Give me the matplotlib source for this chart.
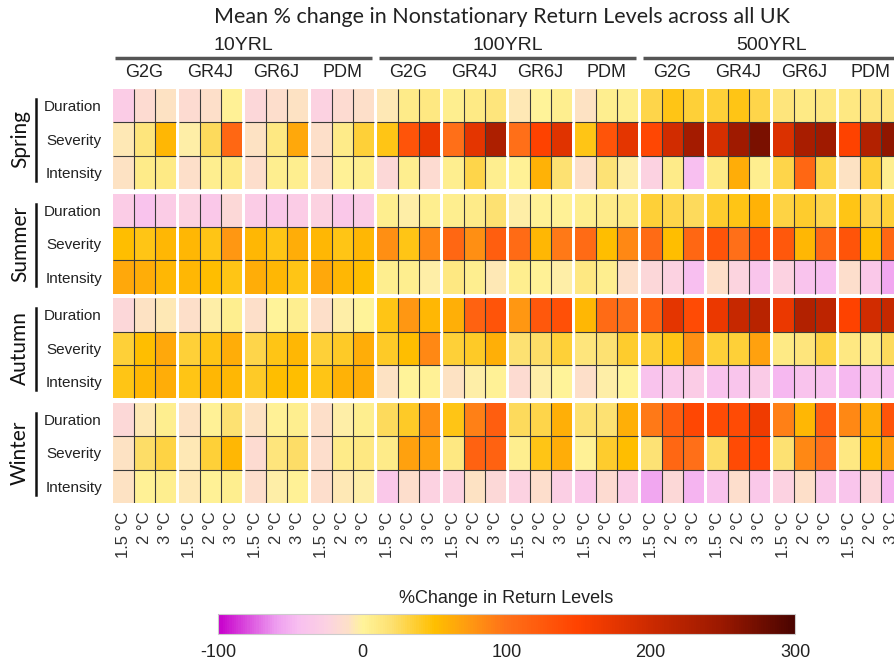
import numpy as np
import matplotlib
matplotlib.use("Agg")
import matplotlib.pyplot as plt
from matplotlib.colors import LinearSegmentedColormap, Normalize
from matplotlib.transforms import blended_transform_factory

plt.rcParams["axes.unicode_minus"] = False

# data (mean % change), rows = season x metric, cols = RL x model x warming
seasons = ["Spring", "Summer", "Autumn", "Winter"]
metrics = ["Duration", "Severity", "Intensity"]
return_levels = ["10YRL", "100YRL", "500YRL"]
models = ["G2G", "GR4J", "GR6J", "PDM"]
warming = ["1.5 °C", "2 °C", "3 °C"]

rl10 = [
    [-30, -15, -8, -15, -10, 3, -20, -12, -8, -25, -15, -10],
    [-5, 15, 55, -3, 25, 110, -8, 12, 65, -10, 8, 35],
    [-8, 8, 10, -10, 5, 10, -12, 5, 5, -12, 3, 5],
    [-30, -40, -30, -25, -35, -18, -30, -35, -30, -25, -35, -30],
    [50, 45, 55, 55, 45, 75, 55, 45, 62, 55, 45, 55],
    [65, 62, 55, 55, 50, 45, 62, 55, 45, 65, 55, 50],
    [-20, -8, -5, -10, -3, 5, -10, 0, 5, -10, -3, 0],
    [35, 50, 65, 35, 45, 62, 30, 45, 55, 35, 40, 62],
    [45, 55, 62, 45, 55, 55, 40, 50, 50, 45, 58, 62],
    [-18, -5, 5, -8, 3, 20, -8, 2, 5, -10, -3, 5],
    [-8, 22, 32, -5, 35, 55, -15, 15, 22, -12, 8, 12],
    [-8, 3, 5, -5, 3, 5, -12, -2, 2, -12, -5, -2],
]
rl100 = [
    [-5, 8, 12, 5, 10, 15, -5, 0, 5, -8, 5, 5],
    [45, 130, 170, 100, 175, 230, 100, 150, 180, 45, 130, 175],
    [-18, 5, -15, 5, 30, 5, 3, 58, 20, -10, 18, -3],
    [5, -3, 5, 5, 8, 20, -3, 3, 3, 5, 8, 10],
    [80, 45, 85, 110, 80, 120, 105, 55, 95, 105, 50, 85],
    [5, 5, -3, 12, 5, -5, 5, 3, -3, 12, 5, -10],
    [45, 75, 55, 60, 115, 130, 75, 125, 135, 55, 105, 100],
    [40, 50, 85, 35, 40, 60, 20, 22, 35, 15, 20, 38],
    [-8, 0, 3, -8, -2, 3, -15, -2, 0, -10, -2, 0],
    [25, 40, 80, 45, 90, 120, 25, 30, 60, 20, 20, 60],
    [8, 70, 70, 12, 115, 115, 5, 45, 62, 3, 38, 50],
    [-35, -12, -25, -25, -8, -18, -25, -12, -28, -35, -15, -30],
]
rl500 = [
    [30, 45, 35, 35, 45, 30, 15, 10, 12, 12, 15, 15],
    [145, 195, 240, 190, 245, 270, 185, 235, 245, 150, 225, 255],
    [-25, 8, -45, 10, 62, 5, 30, 110, 30, -8, 35, 5],
    [35, 30, 25, 38, 45, 58, 32, 38, 30, 45, 30, 35],
    [105, 50, 110, 130, 100, 130, 125, 55, 110, 130, 50, 110],
    [-20, -25, -45, -10, -22, -38, -25, -40, -45, -12, -35, -55],
    [115, 175, 140, 170, 205, 220, 170, 225, 215, 150, 195, 205],
    [35, 45, 80, 35, 35, 70, 10, 15, 32, 12, 8, 25],
    [-40, -35, -30, -40, -38, -32, -48, -40, -42, -48, -42, -45],
    [95, 120, 145, 140, 140, 165, 90, 55, 120, 85, 60, 130],
    [18, 110, 100, 22, 140, 145, 20, 85, 100, 12, 50, 70],
    [-55, -18, -50, -40, -12, -35, -25, -10, -35, -38, -20, -50],
]

values = np.hstack([np.array(rl10), np.array(rl100), np.array(rl500)])

cmap = LinearSegmentedColormap.from_list("rl", [
    (0.0, "#c800cc"),
    (40 / 400, "#ee9ef0"),
    (55 / 400, "#f8bff0"),
    (75 / 400, "#fcd2e2"),
    (90 / 400, "#fde0c8"),
    (100 / 400, "#fff39a"),
    (120 / 400, "#fde070"),
    (150 / 400, "#ffbf00"),
    (175 / 400, "#ff9812"),
    (200 / 400, "#ff7018"),
    (250 / 400, "#ff4200"),
    (300 / 400, "#cc2a00"),
    (350 / 400, "#9a1800"),
    (1.0, "#4a0400"),
])
norm = Normalize(-100, 300)

label_font = ["Liberation Sans", "DejaVu Sans"]
title_font = ["Lato", "DejaVu Sans"]

fig = plt.figure(figsize=(8.94, 6.62), dpi=100)

col_gap = 0.14
row_gap = 0.12
n_rows, n_cols = values.shape
col_x = np.arange(n_cols) + (np.arange(n_cols) // 3) * col_gap
row_y = np.arange(n_rows) + (np.arange(n_rows) // 3) * row_gap
x_total = col_x[-1] + 1
y_total = row_y[-1] + 1

ax = fig.add_axes([113 / 894, 1 - 503 / 662, 789 / 894, 414 / 662])

for bi in range(n_rows // 3):
    for bj in range(n_cols // 3):
        xs = col_x[bj * 3] + np.arange(4)
        ys = row_y[bi * 3] + np.arange(4)
        block = values[bi * 3:bi * 3 + 3, bj * 3:bj * 3 + 3]
        ax.pcolormesh(xs, ys, block, cmap=cmap, norm=norm)
        ax.vlines(xs[1:3], ys[0], ys[-1], color="#3a3a3a", lw=0.8)
        ax.hlines(ys[1:3], xs[0], xs[-1], color="#3a3a3a", lw=0.8)

ax.set_xlim(0, x_total)
ax.set_ylim(y_total, 0)
for s in ax.spines.values():
    s.set_visible(False)

ax.set_xticks(col_x + 0.5)
ax.set_xticklabels(warming * (n_cols // 3), rotation=90, fontsize=12,
                   family=label_font, color="#333333")
ax.tick_params(axis="x", length=0, pad=6)
ax.set_yticks(row_y + 0.5)
ax.set_yticklabels(metrics * len(seasons), fontsize=11,
                   family=label_font, color="#222222")
ax.tick_params(axis="y", length=0, pad=8)

# season labels with bars
ty = blended_transform_factory(ax.transAxes, ax.transData)
for k, season in enumerate(seasons):
    top = row_y[k * 3]
    ax.plot([-0.097, -0.097], [top + 0.3, top + 2.75], color="#111111", lw=1.8,
            transform=ty, clip_on=False)
    ax.text(-0.118, top + 1.5, season, rotation=90, ha="center", va="center",
            fontsize=15, family=title_font, color="#111111", transform=ty)

# model and return level headers
tx = blended_transform_factory(ax.transData, ax.transAxes)
for g, rl in enumerate(return_levels):
    x0 = col_x[g * 12]
    x1 = col_x[g * 12 + 11] + 1
    ax.text((x0 + x1) / 2, 1.106, rl, ha="center", va="center", fontsize=14,
            family=label_font, color="#222222", transform=tx)
    ax.plot([x0 + 0.1, x1 - 0.1], [1.075, 1.075], color="#555555", lw=2.5,
            transform=tx, clip_on=False, solid_capstyle="butt")
    for m, model in enumerate(models):
        c = g * 12 + m * 3
        ax.text(col_x[c] + 1.5, 1.039, model, ha="center", va="center",
                fontsize=13, family=label_font, color="#222222", transform=tx)

fig.text(502 / 894, 1 - 17 / 662, "Mean % change in Nonstationary Return Levels across all UK",
         ha="center", va="center", fontsize=15.5, family=title_font, color="#222222")

# colour bar
cax = fig.add_axes([218 / 894, 1 - 634 / 662, 577 / 894, 20 / 662])
sm = plt.cm.ScalarMappable(norm=norm, cmap=cmap)
cb = fig.colorbar(sm, cax=cax, orientation="horizontal", ticks=[-100, 0, 100, 200, 300])
cb.outline.set_edgecolor("#cccccc")
cb.outline.set_linewidth(0.8)
cax.tick_params(length=0, pad=7, labelsize=13)
for t in cax.get_xticklabels():
    t.set_family(label_font)
    t.set_color("#222222")
cax.set_title("%Change in Return Levels", fontsize=13, family=label_font,
              color="#222222", pad=8)

fig.savefig("out.png", dpi=100)
